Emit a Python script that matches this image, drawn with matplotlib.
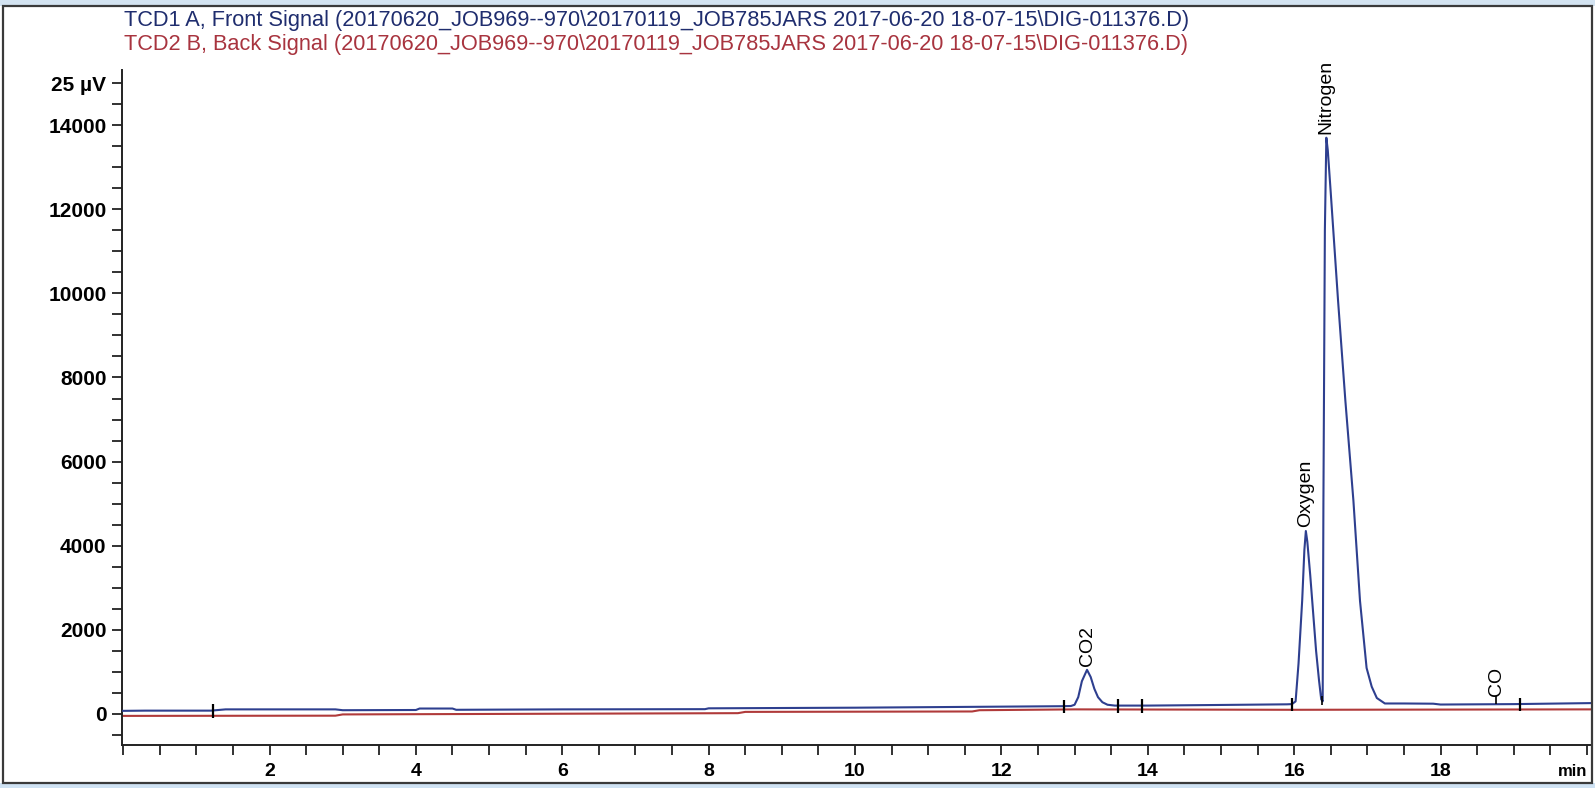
import numpy as np
import matplotlib
matplotlib.use('Agg')
import matplotlib.pyplot as plt
from matplotlib.patches import Rectangle
from matplotlib.ticker import MultipleLocator

plt.rcParams['font.family'] = ['Liberation Sans', 'DejaVu Sans']

# TCD1 A, front signal (min, uV)
front_time = [0.0, 0.3, 1.2, 1.4, 2.9, 3.0, 4.0, 4.05, 4.5, 4.55, 6.0, 7.95, 8.0, 10.0, 12.0, 12.8,
              12.95, 13.0, 13.05, 13.1, 13.17, 13.22, 13.27, 13.32, 13.38, 13.45, 13.55,
              14.0, 15.0, 15.9, 15.97, 16.02, 16.06, 16.11, 16.14, 16.16, 16.18, 16.22, 16.26,
              16.3, 16.34, 16.37, 16.39, 16.4, 16.42, 16.44, 16.46, 16.5, 16.6, 16.7, 16.81,
              16.9, 16.99, 17.06, 17.13, 17.24, 17.5, 17.9, 18.0, 19.0, 20.1]
front_signal = [75, 80, 80, 110, 110, 90, 95, 130, 130, 100, 110, 115, 135, 150, 175, 185,
                190, 220, 400, 780, 1050, 880, 600, 400, 280, 220, 200,
                200, 215, 230, 235, 300, 1200, 2700, 3900, 4350, 4100, 3300, 2400,
                1500, 800, 350, 300, 5000, 11500, 13700, 13400, 12400, 9830, 7450, 5070,
                2690, 1095, 650, 380, 250, 250, 245, 225, 235, 260]

# TCD2 B, back signal
back_time = [0.0, 2.9, 3.0, 8.4, 8.5, 11.6, 11.7, 13.0, 16.0, 20.1]
back_signal = [-45, -40, -10, 20, 50, 60, 90, 110, 100, 110]

peak_names = ['CO2', 'Oxygen', 'Nitrogen']
peak_times = [13.17, 16.16, 16.44]
marker_name = 'CO'
marker_time = 18.76

event_times = [1.23, 12.85, 13.60, 13.92, 15.97, 19.08]
drop_times = [16.38]

title_front = 'TCD1 A, Front Signal (20170620_JOB969--970\\20170119_JOB785JARS 2017-06-20 18-07-15\\DIG-011376.D)'
title_back = 'TCD2 B, Back Signal (20170620_JOB969--970\\20170119_JOB785JARS 2017-06-20 18-07-15\\DIG-011376.D)'

x_ticks = [2, 4, 6, 8, 10, 12, 14, 16, 18]
y_ticks = [0, 2000, 4000, 6000, 8000, 10000, 12000, 14000, 15000]
y_tick_labels = ['0', '2000', '4000', '6000', '8000', '10000', '12000', '14000', '25 µV']

W, H = 1595, 788
fig = plt.figure(figsize=(W / 100, H / 100), dpi=100)

# window frame of the screenshot
fig.patches.append(Rectangle((0, 1 - 6 / H), 1, 6 / H, transform=fig.transFigure,
                             facecolor='#d3e3f1', edgecolor='none', zorder=0))
fig.patches.append(Rectangle((0, 0), 1, 5 / H, transform=fig.transFigure,
                             facecolor='#cfe2f3', edgecolor='none', zorder=0))
fig.patches.append(Rectangle((3 / W, 5 / H), 1589 / W, 777 / H, transform=fig.transFigure,
                             fill=False, edgecolor='#3a3a3a', linewidth=1.6, zorder=1))

fig.text(124 / W, 1 - 26 / H, title_front, color='#1f2d6e', fontsize=15.7, va='baseline')
fig.text(124 / W, 1 - 50 / H, title_back, color='#a8343f', fontsize=15.7, va='baseline')

ax = fig.add_axes([121.7 / W, 43 / H, (1592 - 121.7) / W, (745 - 70) / H])
ax.set_xlim(-0.02, 20.07)
ax.set_ylim(-737, 15310)

ax.plot(back_time, back_signal, color='#b03a3a', linewidth=1.5, zorder=2)
ax.plot(front_time, front_signal, color='#2e3f8f', linewidth=1.5, zorder=3)

# integration event ticks
for t in event_times:
    b = np.interp(t, front_time, front_signal)
    ax.vlines(t, b - 170, b + 150, color='black', linewidth=1.6, zorder=4)
for t in drop_times:
    b = np.interp(t, front_time, front_signal)
    ax.vlines(t, b - 120, b + 100, color='black', linewidth=1.2, zorder=4)

for name, t in zip(peak_names, peak_times):
    v = np.interp(t, front_time, front_signal)
    ax.annotate(name, (t, v), xytext=(0, 3), textcoords='offset points',
                rotation=90, ha='center', va='bottom', fontsize=14, color='black')

b = np.interp(marker_time, front_time, front_signal)
ax.vlines(marker_time, b, b + 190, color='black', linewidth=1.2, zorder=4)
ax.text(marker_time, b + 190, marker_name, rotation=90, ha='center', va='bottom',
        fontsize=14, color='black')

ax.spines['top'].set_visible(False)
ax.spines['right'].set_visible(False)
for s in ['left', 'bottom']:
    ax.spines[s].set_linewidth(1.4)
    ax.spines[s].set_color('#222222')

ax.set_xticks(x_ticks)
ax.set_xticklabels([str(v) for v in x_ticks])
ax.set_yticks(y_ticks)
ax.set_yticklabels(y_tick_labels)
ax.xaxis.set_minor_locator(MultipleLocator(0.5))
ax.yaxis.set_minor_locator(MultipleLocator(500))
ax.tick_params(which='both', direction='out', length=7, width=1.3, color='#222222')
ax.tick_params(axis='y', which='major', labelsize=15, pad=4)
ax.tick_params(axis='x', which='major', labelsize=14, pad=6)
for lab in ax.get_xticklabels() + ax.get_yticklabels():
    lab.set_fontweight('bold')

ax.text(0.997, -0.04, 'min', transform=ax.transAxes, ha='right', va='center',
        fontsize=12, fontweight='bold')

fig.savefig('out.png', dpi=100)
